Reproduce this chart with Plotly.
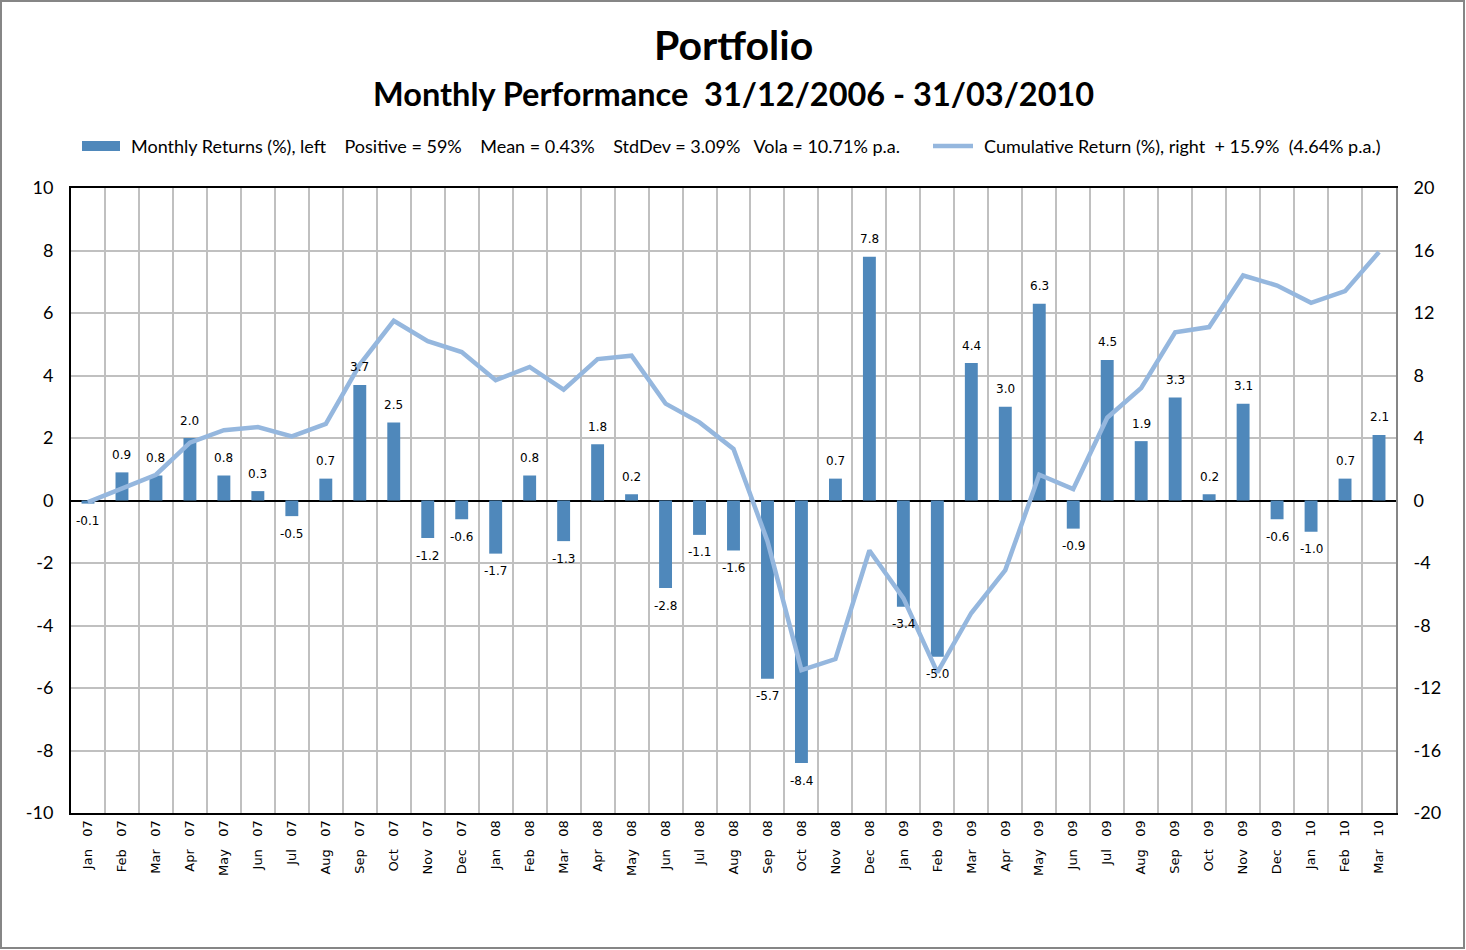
import plotly.graph_objects as go

months = ["Jan 07", "Feb 07", "Mar 07", "Apr 07", "May 07", "Jun 07", "Jul 07", "Aug 07",
          "Sep 07", "Oct 07", "Nov 07", "Dec 07", "Jan 08", "Feb 08", "Mar 08", "Apr 08",
          "May 08", "Jun 08", "Jul 08", "Aug 08", "Sep 08", "Oct 08", "Nov 08", "Dec 08",
          "Jan 09", "Feb 09", "Mar 09", "Apr 09", "May 09", "Jun 09", "Jul 09", "Aug 09",
          "Sep 09", "Oct 09", "Nov 09", "Dec 09", "Jan 10", "Feb 10", "Mar 10"]

monthly_returns = [-0.1, 0.9, 0.8, 2.0, 0.8, 0.3, -0.5, 0.7, 3.7, 2.5, -1.2, -0.6,
                   -1.7, 0.8, -1.3, 1.8, 0.2, -2.8, -1.1, -1.6, -5.7, -8.4, 0.7, 7.8,
                   -3.4, -5.0, 4.4, 3.0, 6.3, -0.9, 4.5, 1.9, 3.3, 0.2, 3.1, -0.6,
                   -1.0, 0.7, 2.1]

cumulative_return = [-0.1, 0.8, 1.65, 3.7, 4.5, 4.7, 4.1, 4.9, 8.7, 11.5, 10.2, 9.5,
                     7.7, 8.55, 7.1, 9.05, 9.27, 6.2, 5.0, 3.3, -2.6, -10.85, -10.15, -3.2,
                     -6.25, -11.0, -7.2, -4.45, 1.65, 0.73, 5.3, 7.2, 10.77, 11.1, 14.4, 13.76,
                     12.65, 13.4, 15.9]

left_ticks = [-10, -8, -6, -4, -2, 0, 2, 4, 6, 8, 10]
right_ticks = [-20, -16, -12, -8, -4, 0, 4, 8, 12, 16, 20]

NB = "\u00a0"
bar_name = ("Monthly Returns (%), left" + NB * 4 + "Positive = 59%" + NB * 4 + "Mean = 0.43%"
            + NB * 4 + "StdDev = 3.09%" + NB * 3 + "Vola = 10.71% p.a.")
line_name = "Cumulative Return (%), right" + NB * 2 + "+ 15.9%" + NB * 2 + "(4.64% p.a.)"

BAR_COLOR = "#4F88BB"
LINE_COLOR = "#95B7DE"
GRID = "#C0C0C0"

# plot area in pixels: x 71..1396, y 188..813
PW, PH = 1325.0, 625.0


def px_x(p):
    return (p - 71) / PW


def px_y(p):
    return (813 - p) / PH


fig = go.Figure()
fig.add_trace(go.Bar(
    x=months, y=monthly_returns, name=bar_name,
    marker=dict(color=BAR_COLOR, line=dict(width=0)),
    width=0.38,
    yaxis="y",
    hoverinfo="x+y",
))
fig.add_trace(go.Scatter(
    x=months, y=cumulative_return, name=line_name,
    mode="lines", line=dict(color=LINE_COLOR, width=4.5),
    yaxis="y2",
))

legend_font = dict(family="Lato", size=18, color="#000000")

# value labels above positive bars / below negative bars
label_annotations = [
    dict(x=m, y=v, xref="x", yref="y", text=f"{v:.1f}", showarrow=False,
         xanchor="center", yanchor="middle", yshift=17.5 if v >= 0 else -17.5,
         font=dict(family="DejaVu Sans", size=12, color="#000000"))
    for m, v in zip(months, monthly_returns)
]

fig.update_layout(
    width=1466, height=950,
    paper_bgcolor="white", plot_bgcolor="white",
    margin=dict(l=71, r=70, t=188, b=137),
    showlegend=False,
    xaxis=dict(
        type="category", tickson="boundaries", showgrid=True, gridcolor=GRID, gridwidth=2,
        tickangle=-90, tickfont=dict(family="DejaVu Sans", size=13, color="#000000"),
        tickvals=months, ticktext=[m.replace(" ", NB * 3) for m in months],
        showline=True, linecolor="#000000", linewidth=2, mirror=True,
        ticks="", range=[-0.5, 38.5],
    ),
    yaxis=dict(
        range=[-10, 10], tickvals=left_ticks, ticktext=[str(t) for t in left_ticks],
        showgrid=True, gridcolor=GRID, gridwidth=2,
        zeroline=True, zerolinecolor="#000000", zerolinewidth=2,
        showline=True, linecolor="#000000", linewidth=2,
        tickfont=dict(family="Lato", size=18, color="#000000"), ticks="", ticklabelstandoff=12,
    ),
    yaxis2=dict(
        range=[-20, 20], tickvals=right_ticks, ticktext=[str(t) for t in right_ticks],
        overlaying="y", side="right",
        showgrid=False, zeroline=False,
        showline=True, linecolor="#868686", linewidth=2,
        tickfont=dict(family="Lato", size=18, color="#000000"), ticks="", ticklabelstandoff=12,
    ),
    annotations=label_annotations + [
        dict(text="<b>Portfolio</b>", xref="paper", yref="paper", x=0.5, y=px_y(44),
             xanchor="center", yanchor="middle", showarrow=False,
             font=dict(family="Lato", size=41, color="#000000")),
        dict(text="<b>Monthly Performance" + NB * 2 + "31/12/2006 - 31/03/2010</b>",
             xref="paper", yref="paper", x=0.5, y=px_y(93),
             xanchor="center", yanchor="middle", showarrow=False,
             font=dict(family="Lato", size=32.5, color="#000000")),
        dict(text=bar_name, xref="paper", yref="paper", x=px_x(129), y=px_y(146),
             xanchor="left", yanchor="middle", showarrow=False, font=legend_font),
        dict(text=line_name, xref="paper", yref="paper", x=px_x(982), y=px_y(146),
             xanchor="left", yanchor="middle", showarrow=False, font=legend_font),
    ],
    shapes=[
        dict(type="rect", xref="paper", yref="paper",
             x0=px_x(1), x1=px_x(1464), y0=px_y(948), y1=px_y(1),
             line=dict(color="#868686", width=2), fillcolor="rgba(0,0,0,0)", layer="below"),
        dict(type="rect", xref="paper", yref="paper",
             x0=px_x(82), x1=px_x(120), y0=px_y(151), y1=px_y(141),
             line=dict(width=0), fillcolor=BAR_COLOR),
        dict(type="line", xref="paper", yref="paper",
             x0=px_x(933), x1=px_x(973), y0=px_y(146), y1=px_y(146),
             line=dict(color=LINE_COLOR, width=4.5)),
    ],
)

fig.write_html("out.html", config={"displayModeBar": False},
               post_script="document.body.style.margin='0';")
